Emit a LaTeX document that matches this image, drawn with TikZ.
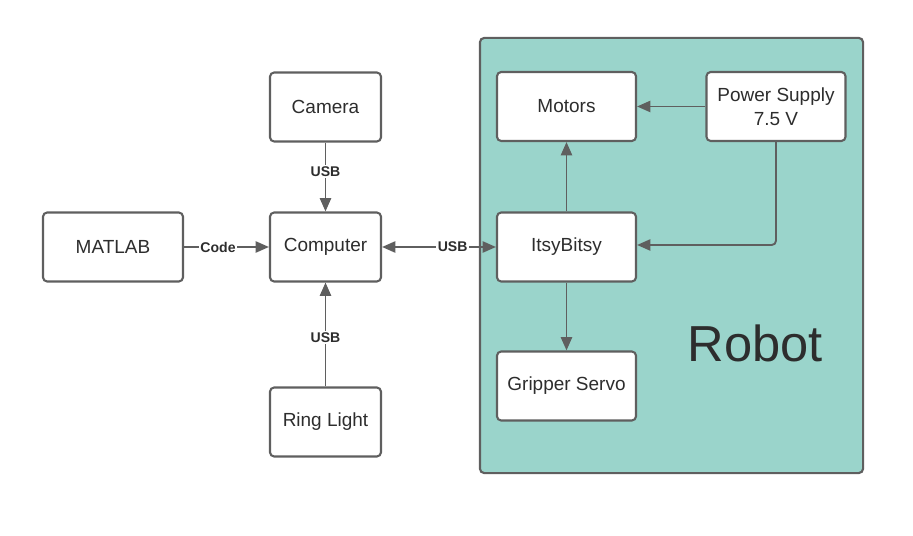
\documentclass[tikz,border=0pt]{standalone}
\usepackage{fontspec}
\setmainfont{Liberation Sans}
\usetikzlibrary{arrows.meta, positioning, backgrounds}

\definecolor{robotteal}{RGB}{154,212,203}
\definecolor{edgegray}{RGB}{95,95,95}
\definecolor{textgray}{RGB}{45,45,45}

\begin{document}
\begin{tikzpicture} [
    x=0.025cm, y=-0.025cm,
    block/.style={rectangle, rounded corners=3pt, draw=edgegray, line width=1.5pt, fill=white, minimum width=2.775cm, minimum height=1.725cm, font=\fontsize{13.5}{17}\selectfont, text=textgray, align=center},
    wideblock/.style={block, minimum width=3.5cm},
    robotblock/.style={block, minimum width=3.475cm},
    arrow/.style={-{Triangle[length=9.5pt, width=8pt]}, draw=edgegray, line width=1.35pt},
    biarrow/.style={{Triangle[length=9.5pt, width=8pt]}-{Triangle[length=9.5pt, width=8pt]}, draw=edgegray, line width=1.35pt},
    tag/.style={fill=white, inner sep=1pt, font=\bfseries\fontsize{10}{12}\selectfont, text=textgray}
]
\useasboundingbox (0,0) rectangle (913,536);

% Robot enclosure
\node[rectangle, rounded corners=3pt, draw=edgegray, line width=1.5pt, fill=robotteal, minimum width=9.575cm, minimum height=10.875cm] (robot) at (671.5,255.5) {};
\node[font=\fontsize{36}{40}\selectfont, text=textgray] (robot_label) at (755,343) {Robot};

% PC side
\node[block] (camera) at (325.5,107) {Camera};
\node[block] (computer) at (325.5,247) {Computer};
\node[block] (ring_light) at (325.5,422) {Ring Light};
\node[wideblock] (matlab) at (113,247) {MATLAB};

% Robot side
\node[robotblock] (motors) at (566.5,106.5) {Motors};
\node[robotblock] (power) at (776,106.5) {Power Supply\\7.5 V};
\node[robotblock] (itsy) at (566.5,247) {ItsyBitsy};
\node[robotblock] (gripper) at (566.5,386) {Gripper Servo};

% Connections
\draw[arrow] (camera) -- node[tag, pos=0.42] {USB} (computer);
\draw[arrow] (ring_light) -- node[tag, pos=0.47] {USB} (computer);
\draw[arrow] (matlab) -- node[tag, pos=0.4] {Code} (computer);
\draw[biarrow] (computer) -- node[tag, pos=0.62] {USB} (itsy);

\draw[arrow] (power) -- (motors);
\draw[arrow] (itsy) -- (motors);
\draw[arrow] (itsy) -- (gripper);
\draw[arrow, rounded corners=3pt] (power.south) |- ([yshift=0.05cm]itsy.east);

\end{tikzpicture}
\end{document}
